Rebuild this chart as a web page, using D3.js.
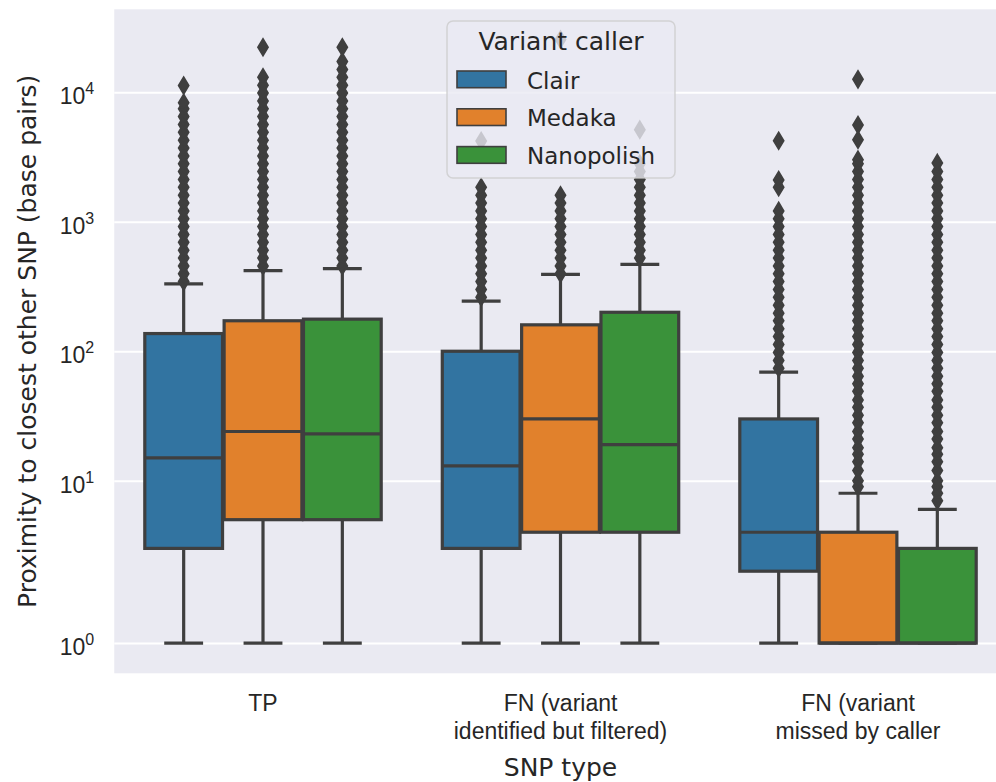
<!DOCTYPE html>
<html>
<head>
<meta charset="utf-8">
<script src="https://cdn.jsdelivr.net/npm/d3@7"></script>
<style>
  html, body { margin: 0; padding: 0; background: #ffffff; overflow: hidden; }
  svg { display: block; font-family: "DejaVu Sans", sans-serif; }
</style>
</head>
<body>
<svg id="chart" width="996" height="782"></svg>
<script>
// SNP types on the x axis and the variant callers drawn as hue boxes
const categories = ["TP", "FN (variant\nidentified but filtered)", "FN (variant\nmissed by caller"];
const callers = ["Clair", "Medaka", "Nanopolish"];
const callerColors = ["#3274a1", "#e1812c", "#3a923a"];

// Box statistics, indexed [caller][SNP type] (base pairs)
const whiskerLowValues  = [[1, 1, 1], [1, 1, 1], [1, 1, 1]];
const q1Values          = [[3, 3, 2], [5, 4, 1], [5, 4, 1]];
const medianValues      = [[15, 13, 4], [24, 30, 1], [23, 19, 1]];
const q3Values          = [[137, 100, 30], [172, 160, 4], [177, 200, 3]];
const whiskerHighValues = [[331, 244, 69], [420, 392, 8], [434, 469, 6]];

// Outliers beyond the whiskers, indexed [SNP type]
const clairOutliers = [
  [345, 397, 456, 525, 603, 694, 798, 918, 1055, 1214, 1396, 1605, 1846, 2123, 2441, 2807, 3228, 3713, 4270, 4910, 5647, 6494, 7468, 8300, 11270],
  [261, 300, 345, 397, 456, 525, 603, 694, 798, 918, 1055, 1214, 1396, 1605, 1846, 4200],
  [74, 85, 98, 113, 130, 149, 172, 197, 227, 261, 300, 345, 397, 456, 525, 603, 694, 798, 918, 1055, 1214, 1850, 2100, 4230]
];
const medakaOutliers = [
  [456, 525, 603, 694, 798, 918, 1055, 1214, 1396, 1605, 1846, 2123, 2441, 2807, 3228, 3713, 4270, 4910, 5647, 6494, 7468, 8588, 9876, 11358, 13061, 22270],
  [397, 456, 525, 603, 694, 798, 918, 1055, 1214, 1396, 1605, 25600],
  [9, 10, 12, 14, 16, 18, 21, 24, 28, 32, 37, 42, 49, 56, 64, 74, 85, 98, 113, 130, 149, 172, 197, 227, 261, 300, 345, 397, 456, 525, 603, 694, 798, 918, 1055, 1214, 1396, 1605, 1846, 2123, 2441, 2807, 3020, 4300, 5600, 12600]
];
const nanopolishOutliers = [
  [456, 525, 603, 694, 798, 918, 1055, 1214, 1396, 1605, 1846, 2123, 2441, 2807, 3228, 3713, 4270, 4910, 5647, 6494, 7468, 8588, 9876, 11358, 13061, 15021, 17274, 22270],
  [525, 603, 694, 798, 918, 1055, 1214, 1396, 1605, 1846, 2123, 2441, 2807, 5150],
  [7, 8, 9, 10, 12, 14, 16, 18, 21, 24, 28, 32, 37, 42, 49, 56, 64, 74, 85, 98, 113, 130, 149, 172, 197, 227, 261, 300, 345, 397, 456, 525, 603, 694, 798, 918, 1055, 1214, 1396, 1605, 1846, 2123, 2441, 2850]
];
const outlierValues = [clairOutliers, medakaOutliers, nanopolishOutliers];

const yTickValues = [1, 10, 100, 1000, 10000];
const yTickExponents = ["0", "1", "2", "3", "4"];

const xTitle = "SNP type";
const yTitle = "Proximity to closest other SNP (base pairs)";
const legendTitle = "Variant caller";

// ---------------------------------------------------------------
const svg = d3.select("#chart");
const plot = { left: 114.25, right: 1006.75, top: 9.3, bottom: 673.3 };
const ink = "#3f3f3f";
const textColor = "#262626";
const lineW = 3.2;

// symmetric log transform (linear below 2, base 10 above)
const LINTHRESH = 2, LINSCALE_ADJ = 1 / (1 - 1 / 10);
function symlog(v) {
  const a = Math.abs(v);
  if (a <= LINTHRESH) return v * LINSCALE_ADJ;
  return Math.sign(v) * LINTHRESH * (LINSCALE_ADJ + Math.log10(a / LINTHRESH));
}

// y domain from the data, padded 5% in transformed space
const allVals = [].concat(
  whiskerLowValues.flat(), whiskerHighValues.flat(),
  outlierValues.flat(2)
);
const tMin = symlog(d3.min(allVals)), tMax = symlog(d3.max(allVals));
const pad = (tMax - tMin) * 0.05;
const yLin = d3.scaleLinear().domain([tMin - pad, tMax + pad]).range([plot.bottom, plot.top]);
const y = v => yLin(symlog(v));

const x = d3.scaleBand().domain(categories).range([plot.left, plot.right]).paddingInner(0).paddingOuter(0);
const hue = d3.scaleBand().domain(callers).range([0, x.bandwidth() * 0.8]);
const boxW = hue.bandwidth() * 0.98;
const hueOffset = c => x.bandwidth() * 0.1 + hue(c) + hue.bandwidth() / 2;

// background
svg.append("rect")
  .attr("x", plot.left).attr("y", plot.top)
  .attr("width", plot.right - plot.left).attr("height", plot.bottom - plot.top)
  .attr("fill", "#eaeaf2");

// horizontal grid + y tick labels
const yAxis = d3.axisLeft(yLin)
  .tickValues(yTickValues.map(symlog))
  .tickSizeInner(-(plot.right - plot.left))
  .tickSizeOuter(0)
  .tickFormat("");
const yg = svg.append("g").attr("transform", `translate(${plot.left},0)`).call(yAxis);
yg.select(".domain").remove();
yg.selectAll(".tick line").attr("stroke", "#ffffff").attr("stroke-width", 2);
yg.selectAll(".tick text").remove();
yg.selectAll(".tick").each(function (d, i) {
  const t = d3.select(this).append("text")
    .attr("x", -20).attr("y", 11.5)
    .attr("text-anchor", "end")
    .attr("fill", textColor)
    .style("font-size", "23px");
  t.append("tspan").text("10");
  t.append("tspan").attr("dy", -10).style("font-size", "16px").text(yTickExponents[i]);
});

// x tick labels
const xAxis = d3.axisBottom(x).tickSize(0).tickFormat("");
const xg = svg.append("g").attr("transform", `translate(0,${plot.bottom})`).call(xAxis);
xg.select(".domain").remove();
xg.selectAll(".tick text").remove();
xg.selectAll(".tick").each(function (d) {
  const lines = d.split("\n");
  const t = d3.select(this).append("text")
    .attr("text-anchor", "middle")
    .attr("fill", textColor)
    .style("font-size", "23px");
  lines.forEach((ln, k) => t.append("tspan").attr("x", 0).attr("y", 37.5 + k * 28.5).text(ln));
});

// axis titles
svg.append("text")
  .attr("x", (plot.left + plot.right) / 2).attr("y", 776)
  .attr("text-anchor", "middle").attr("fill", textColor)
  .style("font-size", "25px").text(xTitle);
svg.append("text")
  .attr("transform", `translate(36,${(plot.top + plot.bottom) / 2}) rotate(-90)`)
  .attr("text-anchor", "middle").attr("fill", textColor)
  .style("font-size", "25px").text(yTitle);

// boxes
const diamond = "M0,-8.3L5,0L0,8.3L-5,0Z";
const boxes = svg.append("g");
categories.forEach((cat, ci) => {
  callers.forEach((caller, hi) => {
    const cx = x(cat) + hueOffset(caller);
    const g = boxes.append("g");
    const q1 = q1Values[hi][ci], q3 = q3Values[hi][ci], med = medianValues[hi][ci];
    const wl = whiskerLowValues[hi][ci], wh = whiskerHighValues[hi][ci];
    // whiskers
    g.append("line").attr("x1", cx).attr("x2", cx).attr("y1", y(q1)).attr("y2", y(wl))
      .attr("stroke", ink).attr("stroke-width", lineW);
    g.append("line").attr("x1", cx).attr("x2", cx).attr("y1", y(q3)).attr("y2", y(wh))
      .attr("stroke", ink).attr("stroke-width", lineW);
    // caps
    [wl, wh].forEach(v => {
      g.append("line").attr("x1", cx - boxW / 4).attr("x2", cx + boxW / 4)
        .attr("y1", y(v)).attr("y2", y(v))
        .attr("stroke", ink).attr("stroke-width", lineW);
    });
    // box
    g.append("rect")
      .attr("x", cx - boxW / 2).attr("width", boxW)
      .attr("y", y(q3)).attr("height", y(q1) - y(q3))
      .attr("fill", callerColors[hi]).attr("stroke", ink).attr("stroke-width", lineW);
    // median
    g.append("line").attr("x1", cx - boxW / 2).attr("x2", cx + boxW / 2)
      .attr("y1", y(med)).attr("y2", y(med))
      .attr("stroke", ink).attr("stroke-width", lineW);
    // fliers
    g.selectAll("path.flier").data(outlierValues[hi][ci]).join("path")
      .attr("class", "flier")
      .attr("d", diamond)
      .attr("transform", v => `translate(${cx},${y(v)})`)
      .attr("fill", ink).attr("stroke", ink).attr("stroke-width", 1.8);
  });
});

// legend
const lg = svg.append("g").attr("transform", "translate(447,21)");
lg.append("rect")
  .attr("x", 0).attr("y", 0).attr("width", 228).attr("height", 157).attr("rx", 6)
  .attr("fill", "#eaeaf2").attr("fill-opacity", 0.8)
  .attr("stroke", "#cccccc").attr("stroke-opacity", 0.8).attr("stroke-width", 1.5);
lg.append("text")
  .attr("x", 114).attr("y", 29)
  .attr("text-anchor", "middle").attr("fill", textColor)
  .style("font-size", "25px").text(legendTitle);
callers.forEach((c, i) => {
  const row = lg.append("g").attr("transform", `translate(0,${50 + i * 37.8})`);
  row.append("rect").attr("x", 10).attr("y", 0).attr("width", 49).attr("height", 16.7)
    .attr("fill", callerColors[i]).attr("stroke", ink).attr("stroke-width", 1.6);
  row.append("text").attr("x", 80).attr("y", 17.5)
    .attr("fill", textColor).style("font-size", "23px").text(c);
});
</script>
</body>
</html>
